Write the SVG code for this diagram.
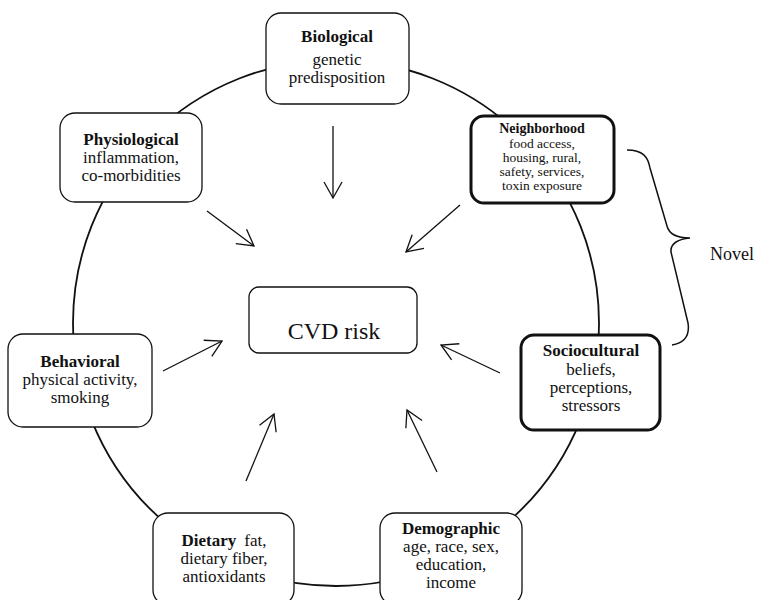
<svg xmlns="http://www.w3.org/2000/svg" width="769" height="600" viewBox="0 0 769 600">
<defs>
<style>
text{font-family:"Liberation Serif","DejaVu Serif",serif;fill:#111;text-anchor:middle}
.b{font-weight:bold}
.t{font-size:17px}
.s{font-size:13.5px}
.box{fill:#fff;stroke:#111;stroke-width:1.3}
.thick{fill:#fff;stroke:#111;stroke-width:3}
.arr{stroke:#111;stroke-width:1.3;fill:none;marker-end:url(#ah)}
</style>
<marker id="ah" markerUnits="userSpaceOnUse" markerWidth="24" markerHeight="24" viewBox="-20 -12 24 24" refX="0" refY="0" orient="auto">
<path d="M-16,-9 L0,0 L-16,9" fill="none" stroke="#111" stroke-width="1.3"/>
</marker>
</defs>
<rect width="769" height="600" fill="#fff"/>
<circle cx="336" cy="323" r="263" fill="none" stroke="#111" stroke-width="1.8"/>
<g id="connectors">
<line class="arr" x1="333" y1="126" x2="333" y2="198"/>
<line class="arr" x1="460" y1="205" x2="406" y2="252"/>
<line class="arr" x1="207" y1="211" x2="254" y2="246"/>
<line class="arr" x1="163" y1="371" x2="222" y2="341"/>
<line class="arr" x1="500" y1="373" x2="441" y2="345"/>
<line class="arr" x1="246" y1="481" x2="274" y2="414"/>
<line class="arr" x1="437" y1="472" x2="407" y2="410"/>
</g>
<g id="cvd">
<rect class="box" x="249" y="287" width="168" height="66" rx="10"/>
<text x="334" y="339" style="font-size:24px">CVD risk</text>
</g>
<g id="biological">
<rect class="box" x="266" y="13" width="143" height="91" rx="15"/>
<text class="t b" x="337" y="42">Biological</text>
<text class="t" x="337" y="65">genetic</text>
<text class="t" x="337" y="83">predisposition</text>
</g>
<g id="neighborhood">
<rect class="thick" x="471" y="116" width="143" height="87" rx="13"/>
<text class="s b" x="542" y="133" style="font-size:14px">Neighborhood</text>
<text class="s" x="542" y="148">food access,</text>
<text class="s" x="542" y="162">housing, rural,</text>
<text class="s" x="542" y="176">safety, services,</text>
<text class="s" x="542" y="190">toxin exposure</text>
</g>
<g id="physiological">
<rect class="box" x="60" y="113" width="142" height="89" rx="15"/>
<text class="t b" x="131" y="145">Physiological</text>
<text class="t" x="131" y="163">inflammation,</text>
<text class="t" x="131" y="181">co-morbidities</text>
</g>
<g id="behavioral">
<rect class="box" x="8" y="334" width="144" height="93" rx="15"/>
<text class="t b" x="80" y="367">Behavioral</text>
<text class="t" x="80" y="385">physical activity,</text>
<text class="t" x="80" y="403">smoking</text>
</g>
<g id="sociocultural">
<rect class="thick" x="521" y="335" width="139" height="95" rx="13"/>
<text class="t b" x="591" y="356">Sociocultural</text>
<text class="t" x="591" y="375">beliefs,</text>
<text class="t" x="591" y="393">perceptions,</text>
<text class="t" x="591" y="411">stressors</text>
</g>
<g id="dietary">
<rect class="box" x="153" y="513" width="141" height="92" rx="15"/>
<text class="t" x="224" y="546"><tspan class="b">Dietary</tspan><tspan dx="8">fat,</tspan></text>
<text class="t" x="224" y="564">dietary fiber,</text>
<text class="t" x="224" y="582">antioxidants</text>
</g>
<g id="demographic">
<rect class="box" x="380" y="513" width="142" height="92" rx="15"/>
<text class="t b" x="451" y="534">Demographic</text>
<text class="t" x="451" y="552">age, race, sex,</text>
<text class="t" x="451" y="570">education,</text>
<text class="t" x="451" y="588">income</text>
</g>
<g id="novel">
<path d="M627,150 C643,150 648,157 650,168 L667,226 C669,234 678,238 690,238 C679,239 670,243 671,252 L688,323 C690,336 684,343 672,345" fill="none" stroke="#111" stroke-width="1.5"/>
<text x="732" y="260" style="font-size:18px">Novel</text>
</g>
</svg>
